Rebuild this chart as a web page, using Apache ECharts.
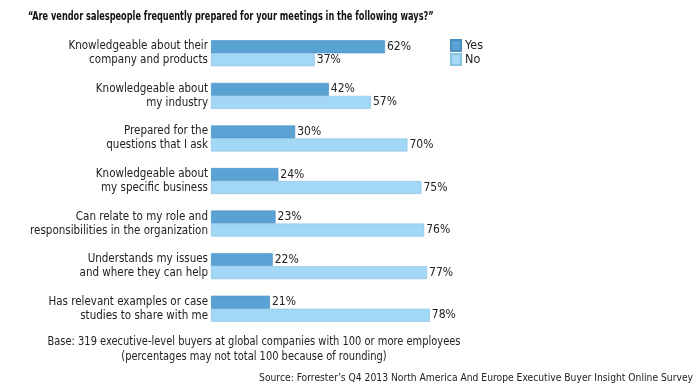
<!DOCTYPE html>
<html><head><meta charset="utf-8">
<script src="https://cdn.jsdelivr.net/npm/echarts@6/dist/echarts.min.js"></script>
<style>html,body{margin:0;padding:0;background:#fff}#c{width:698px;height:386px}</style>
</head><body><div id="c"></div>
<script>
const categories = [
  "Knowledgeable about their\ncompany and products",
  "Knowledgeable about\nmy industry",
  "Prepared for the\nquestions that I ask",
  "Knowledgeable about\nmy specific business",
  "Can relate to my role and\nresponsibilities in the organization",
  "Understands my issues\nand where they can help",
  "Has relevant examples or case\nstudies to share with me"
];
const yesValues = [62, 42, 30, 24, 23, 22, 21];
const noValues = [37, 57, 70, 75, 76, 77, 78];
const seriesNames = ["Yes", "No"];
const titleText = "\u201cAre vendor salespeople frequently prepared for your meetings in the following ways?\u201d";
const baseText = "Base: 319 executive-level buyers at global companies with 100 or more employees\n(percentages may not total 100 because of rounding)";
const sourceText = "Source: Forrester\u2019s Q4 2013 North America And Europe Executive Buyer Insight Online Survey";

const FONT = '"Liberation Sans Narrow", "DejaVu Sans Condensed", Arial, sans-serif';
const chart = echarts.init(document.getElementById('c'), null, {renderer: 'canvas'});
const labelStyle = {show: true, position: 'right', distance: 2, formatter: '{c}%', color: '#222', fontFamily: FONT, fontSize: 12};
chart.setOption({
  animation: false,
  backgroundColor: '#fff',
  textStyle: {fontFamily: FONT},
  grid: {left: 211, top: 32, height: 298, width: 280.6, containLabel: false},
  xAxis: {type: 'value', min: 0, max: 100, show: false},
  yAxis: {
    type: 'category', data: categories, inverse: true,
    axisLine: {show: false}, axisTick: {show: false},
    axisLabel: {margin: 3, color: '#222', fontFamily: FONT, fontSize: 11.5, lineHeight: 14, align: 'right'}
  },
  legend: {
    orient: 'vertical', left: 445, top: 34, itemWidth: 10, itemHeight: 11, itemGap: 1,
    icon: 'rect', data: seriesNames,
    textStyle: {color: '#222', fontFamily: FONT, fontSize: 12.5, padding: [0, 0, 0, -1]}
  },
  series: [
    {name: seriesNames[0], type: 'bar', data: yesValues, barWidth: 13, barGap: '0%',
     itemStyle: {color: '#5aa2d4', borderColor: '#4a8fc2', borderWidth: 0.6}, label: labelStyle},
    {name: seriesNames[1], type: 'bar', data: noValues, barWidth: 13, barGap: '0%',
     itemStyle: {color: '#a2d7f5', borderColor: '#88c0e0', borderWidth: 0.6}, label: labelStyle}
  ],
  graphic: [
    {type: 'text', x: 28, y: 10, scaleX: 0.7, style: {text: titleText, font: 'bold 13px ' + FONT, fill: '#111', verticalAlign: 'top'}},
    {type: 'text', x: 254, y: 334, scaleX: 0.88, style: {text: baseText, font: '12.5px ' + FONT, fill: '#222', align: 'center', verticalAlign: 'top', lineHeight: 15}},
    {type: 'text', x: 693, y: 373, scaleX: 0.93, style: {text: sourceText, font: '11px ' + FONT, fill: '#222', align: 'right', verticalAlign: 'top'}}
  ]
});
</script></body></html>
